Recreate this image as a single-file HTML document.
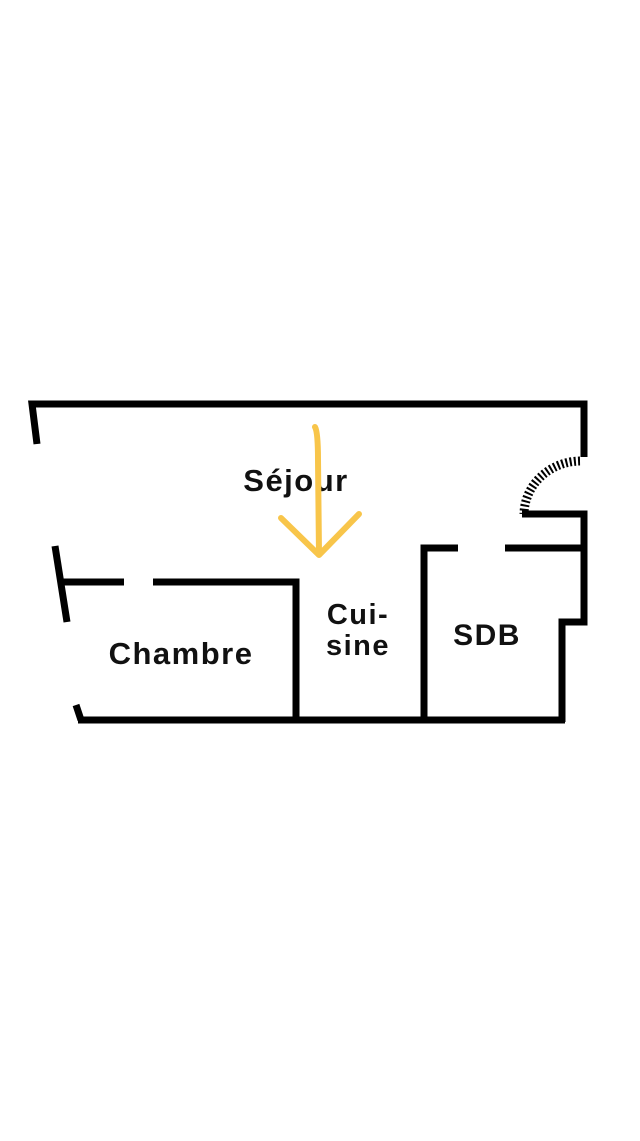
<!DOCTYPE html>
<html><head><meta charset="utf-8"><style>
body{margin:0;background:#fff;width:640px;height:1136px;overflow:hidden}
text{font-family:"Liberation Sans",sans-serif;font-weight:bold;fill:#111;letter-spacing:1.5px}
</style></head><body>
<svg width="640" height="1136" viewBox="0 0 640 1136">
<g stroke="#000" stroke-width="7" fill="none" stroke-linecap="butt">
<polyline points="37,444 32,404 584,404 584,457"/>
<path d="M580,461 A57,54 0 0 0 524,514" stroke-width="9" stroke-dasharray="2,2.2"/>
<polyline points="522,514 584,514 584,622 562,622 562,722"/>
<line x1="76" y1="705" x2="81" y2="720"/>
<line x1="78" y1="720" x2="565" y2="720"/>
<polyline points="424,720 424,548 458,548"/>
<line x1="505" y1="548" x2="584" y2="548"/>
<line x1="55" y1="546" x2="67" y2="622"/>
<line x1="63" y1="582" x2="124" y2="582"/>
<polyline points="153,582 296,582 296,720"/>
</g>
<text x="296" y="491" font-size="31" text-anchor="middle">Séjour</text>
<text x="181" y="664" font-size="31" text-anchor="middle" letter-spacing="2">Chambre</text>
<text x="358" y="624" font-size="29" text-anchor="middle">Cui-</text>
<text x="358" y="655" font-size="29" text-anchor="middle">sine</text>
<text x="487" y="645" font-size="30" text-anchor="middle">SDB</text>
<g stroke="#f8c54a" stroke-width="6" fill="none" stroke-linecap="round" stroke-linejoin="round">
<path d="M315,427 Q318,432 318,460 L319,554"/>
<polyline points="281,518 319,555 359,514"/>
</g>
</svg>
</body></html>
